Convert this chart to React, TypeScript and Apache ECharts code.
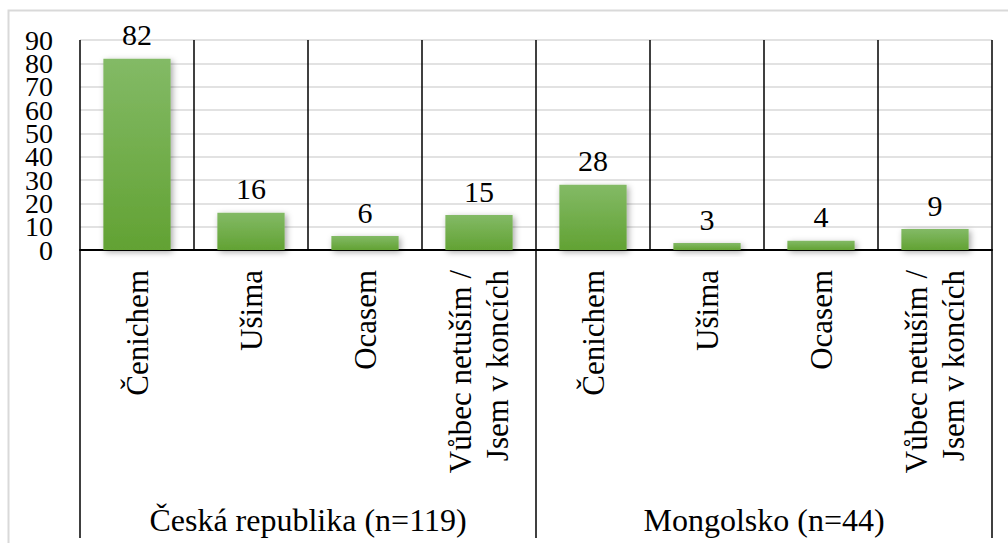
import React, { useEffect, useRef } from "react";
import * as echarts from "echarts";

const categories = [
  "Čenichem",
  "Ušima",
  "Ocasem",
  "Vůbec netuším /\nJsem v koncích",
  "Čenichem ",
  "Ušima ",
  "Ocasem ",
  "Vůbec netuším /\nJsem v koncích ",
];
const values = [82, 16, 6, 15, 28, 3, 4, 9];
const groups = ["Česká republika (n=119)", "Mongolsko (n=44)"];
const yTicks = { min: 0, max: 90, interval: 10 };

const FONT = "Liberation Serif";

// y labels drawn on two overlaid axes with the same scale, so that the
// library's overlap hiding does not drop any of them
const yLabel = (parity: number) => ({
  margin: 27,
  fontSize: 28,
  fontFamily: FONT,
  color: "#000",
  showMinLabel: true,
  showMaxLabel: true,
  hideOverlap: false,
  formatter: (v: number) =>
    Math.round(v / yTicks.interval) % 2 === parity ? String(v) : "",
});

export default function App() {
  const ref = useRef<HTMLDivElement>(null);
  useEffect(() => {
    if (!ref.current) return;
    const chart = echarts.init(ref.current, undefined, { renderer: "svg" });
    chart.setOption({
      animation: false,
      backgroundColor: "#ffffff",
      textStyle: { fontFamily: FONT, color: "#000" },
      graphic: [
        {
          type: "rect",
          z: -10,
          shape: { x: 8.5, y: 10.5, width: 1200, height: 700 },
          style: { fill: "none", stroke: "#d9d9d9", lineWidth: 2 },
        },
      ],
      grid: { left: 80, right: 16, top: 40, bottom: 293, containLabel: false },
      xAxis: [
        {
          type: "category",
          data: categories,
          position: "bottom",
          axisLine: {
            show: true,
            onZero: false,
            lineStyle: { color: "#000", width: 2 },
          },
          axisTick: { show: false },
          splitLine: {
            show: true,
            interval: 0,
            lineStyle: { color: "#000", width: 1.5 },
          },
          axisLabel: {
            interval: 0,
            rotate: 90,
            margin: 20,
            fontSize: 31,
            lineHeight: 37,
            fontFamily: FONT,
            color: "#000",
            formatter: (v: string) => v.trim(),
          },
        },
        {
          type: "category",
          data: groups,
          position: "bottom",
          offset: 288,
          axisLine: { show: false, onZero: false },
          axisTick: {
            show: true,
            inside: true,
            length: 288,
            interval: 0,
            lineStyle: { color: "#000", width: 1.5 },
          },
          axisLabel: {
            inside: true,
            interval: 0,
            margin: 2,
            fontSize: 32,
            fontFamily: FONT,
            color: "#000",
          },
        },
      ],
      yAxis: [
        {
          type: "value",
          position: "left",
          min: yTicks.min,
          max: yTicks.max,
          interval: yTicks.interval,
          axisLine: { show: false, onZero: false },
          axisTick: { show: false },
          splitLine: { show: true, lineStyle: { color: "#d9d9d9", width: 1.5 } },
          axisLabel: yLabel(0),
        },
        {
          type: "value",
          position: "left",
          offset: 0,
          min: yTicks.min,
          max: yTicks.max,
          interval: yTicks.interval,
          axisLine: { show: false, onZero: false },
          axisTick: { show: false },
          splitLine: { show: false },
          axisLabel: yLabel(1),
        },
      ],
      series: [
        {
          type: "bar",
          xAxisIndex: 0,
          yAxisIndex: 0,
          data: values,
          barWidth: "59%",
          itemStyle: {
            color: new echarts.graphic.LinearGradient(0, 0, 0, 1, [
              { offset: 0, color: "#83ba66" },
              { offset: 1, color: "#62a233" },
            ]),
            shadowColor: "rgba(0,0,0,0.35)",
            shadowBlur: 6,
            shadowOffsetX: 2,
            shadowOffsetY: 2,
          },
          label: {
            show: true,
            position: "top",
            distance: 9,
            fontSize: 30,
            fontFamily: FONT,
            color: "#000",
          },
        },
      ],
    });
    return () => chart.dispose();
  }, []);
  return (
    <div
      ref={ref}
      style={{ position: "absolute", left: 0, top: 0, width: 1008, height: 543 }}
    />
  );
}
